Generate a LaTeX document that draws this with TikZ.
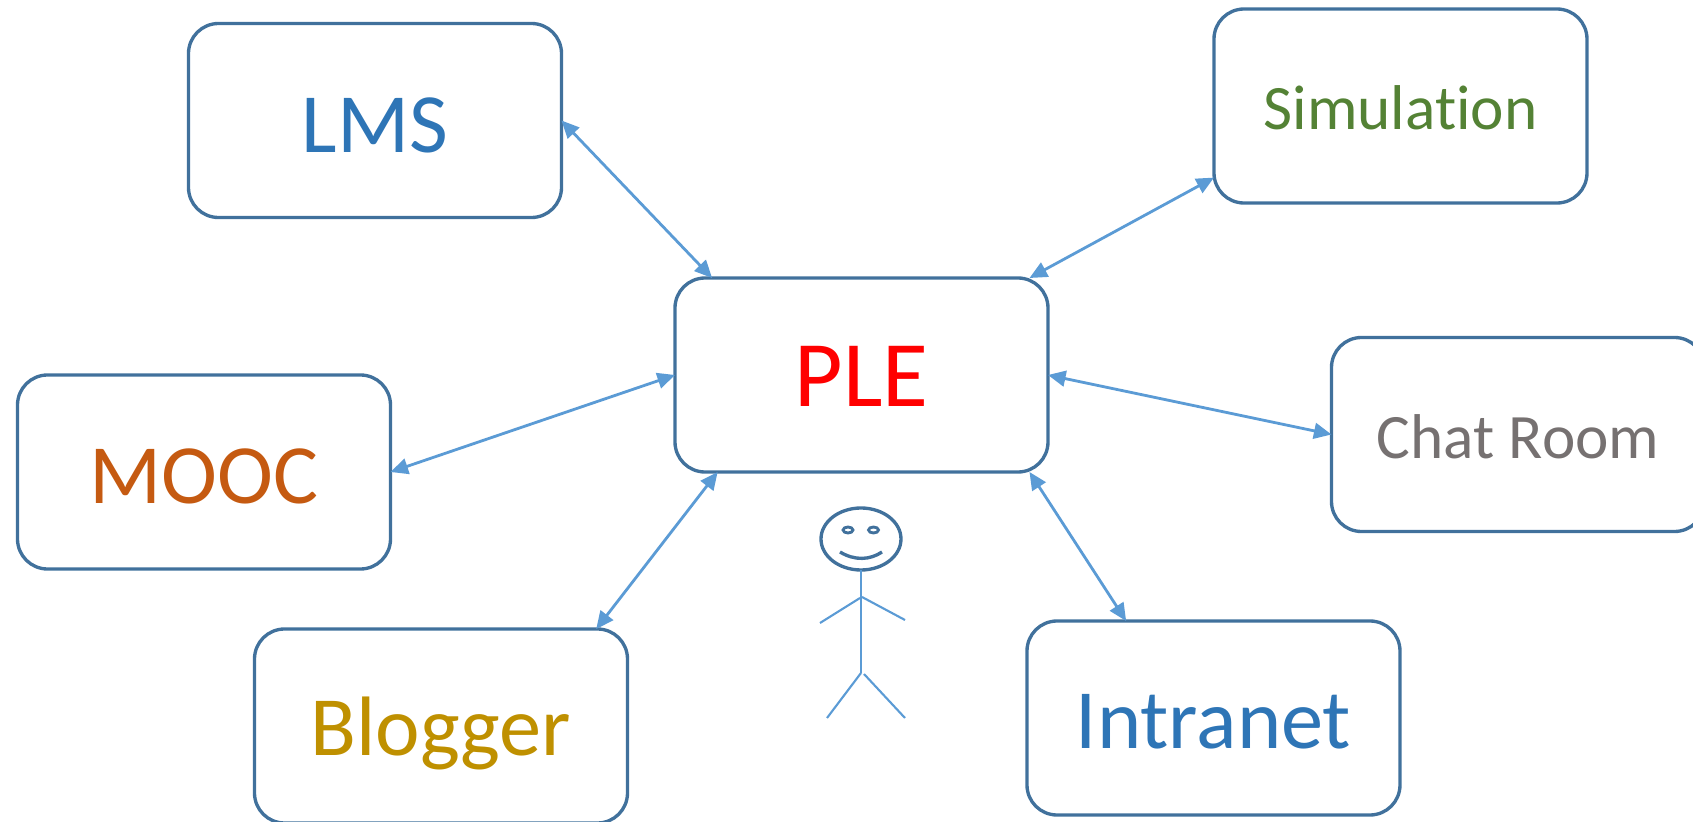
\documentclass[tikz,border=0pt]{standalone}
\usepackage{fontspec}
\setmainfont[Ligatures=NoCommon]{Carlito}
\usetikzlibrary{arrows.meta}
\definecolor{boxblue}{HTML}{41719C}
\definecolor{linkblue}{HTML}{5B9BD5}
\definecolor{textblue}{HTML}{2E75B6}
\definecolor{textgreen}{HTML}{548235}
\definecolor{textorange}{HTML}{C55A11}
\definecolor{textgrey}{HTML}{767171}
\definecolor{textgold}{HTML}{BF9000}
\tikzset{
  toolbox/.style={rectangle,draw=boxblue,line width=0.95pt,rounded corners=0.3cm,minimum width=3.73cm,minimum height=1.94cm,inner sep=0pt,outer sep=0pt,text depth=0pt},
  bigtext/.style={font=\fontsize{24}{28}\selectfont,text height=0.64cm},
  smalltext/.style={font=\fontsize{18}{22}\selectfont,text height=0.48cm},
  link/.style={{Triangle[length=5pt,width=4.5pt]}-{Triangle[length=5pt,width=4.5pt]},draw=linkblue,fill=linkblue,line width=0.8pt}
}

\begin{document}
\begin{tikzpicture}
  \useasboundingbox (0,0) rectangle (16.93,8.22);

  % Tools around the learner
  \node[toolbox,text=red,font=\fontsize{26.7}{30}\selectfont,text height=0.64cm] (ple) at (8.615,4.47) {PLE};
  \node[toolbox,bigtext,text=textblue] (lms) at (3.75,7.015) {LMS};
  \node[toolbox,smalltext,text=textgreen] (simulation) at (14.005,7.16) {Simulation};
  \node[toolbox,bigtext,text=textorange] (mooc) at (2.04,3.50) {MOOC};
  \node[toolbox,smalltext,text=textgrey] (chatroom) at (15.18,3.875) {Chat Room};
  \node[toolbox,bigtext,text=textgold,text height=0.60cm] (blogger) at (4.41,0.96) {Blogger};
  \node[toolbox,bigtext,text=textblue,text height=0.60cm] (intranet) at (12.135,1.04) {Intranet};

  % Arrows between PLE and the tools
  \draw[link] (lms.0) -- (ple.147.7);
  \draw[link] (simulation.201) -- (ple.30.2);
  \draw[link] (ple.east) -- (chatroom.west);
  \draw[link] (mooc.east) -- (ple.west);
  \draw[link] (blogger.32) -- (ple.214.3);
  \draw[link] (intranet.132.4) -- (ple.-30.3);

  % Stick figure
  \draw[boxblue,line width=0.95pt] (8.61,2.83) ellipse (0.40 and 0.31);
  \draw[boxblue,line width=0.8pt] (8.48,2.92) ellipse (0.05 and 0.03);
  \draw[boxblue,line width=0.8pt] (8.735,2.92) ellipse (0.05 and 0.03);
  \draw[boxblue,line width=0.95pt] (8.40,2.70) .. controls (8.55,2.61) and (8.70,2.62) .. (8.82,2.70);
  \draw[linkblue,line width=0.8pt] (8.61,2.52) -- (8.61,1.49);
  \draw[linkblue,line width=0.6pt] (8.60,2.24) -- (8.20,1.99);
  \draw[linkblue,line width=0.6pt] (8.62,2.25) -- (9.05,2.02);
  \draw[linkblue,line width=0.6pt] (8.61,1.49) -- (8.27,1.04);
  \draw[linkblue,line width=0.6pt] (8.64,1.48) -- (9.05,1.04);
\end{tikzpicture}
\end{document}
